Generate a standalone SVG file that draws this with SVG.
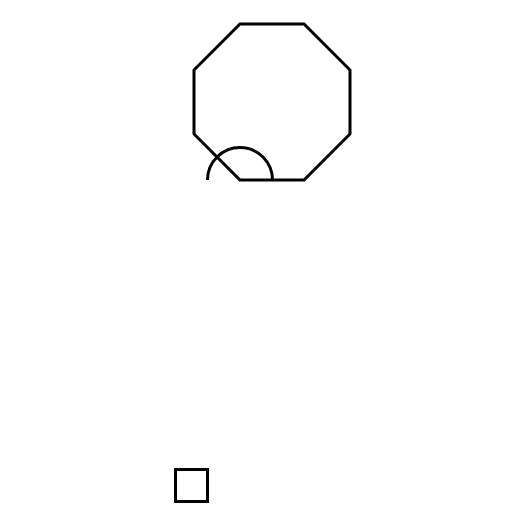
<svg xmlns="http://www.w3.org/2000/svg" width="525" height="525" viewBox="0 0 525 525">
<style>.s{fill:none;stroke:#000;stroke-width:3;stroke-linejoin:miter}</style>
<rect width="525" height="525" fill="#fff"/>
<g id="octagon"><polygon class="s" points="240,24 304,24 350,70 350,134 304,180 240,180 194,134 194,70"/></g>
<g id="arc"><path class="s" d="M207.5,180 A32.5,32.5 0 0 1 272.5,180"/></g>
<g id="square"><rect class="s" x="175.5" y="469.5" width="32" height="32"/></g>
</svg>
